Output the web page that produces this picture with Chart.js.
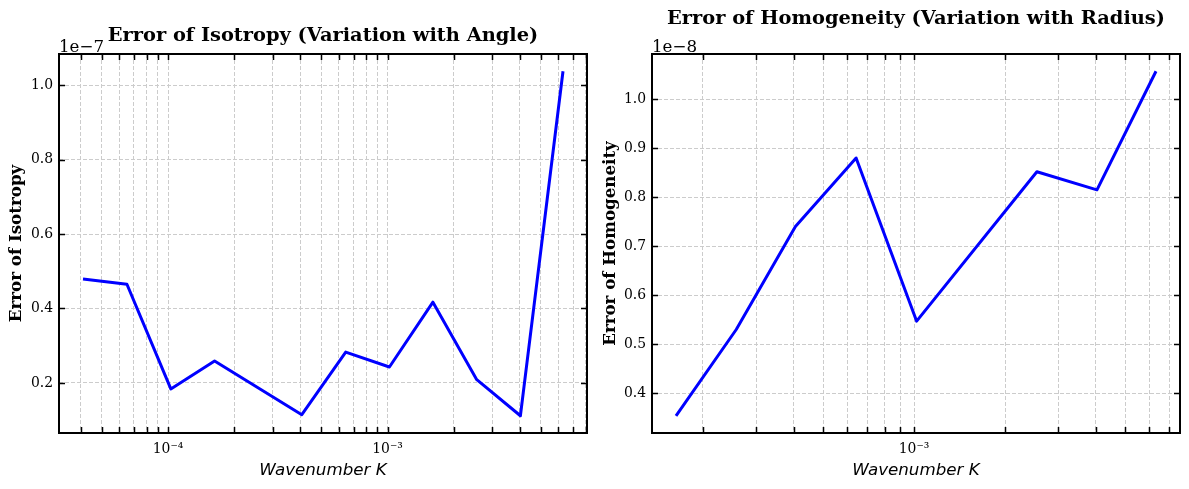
<!DOCTYPE html>
<html>
<head>
<meta charset="utf-8">
<script src="https://cdn.jsdelivr.net/npm/chart.js@4.4.0/dist/chart.umd.min.js"></script>
<style>
  html, body { margin: 0; padding: 0; background: #fff; }
  #wrap { position: relative; width: 1189px; height: 489px; }
  canvas { position: absolute; top: 0; }
  #isoChart { left: 0; }
  #homChart { left: 593px; }
</style>
</head>
<body>
<div id="wrap">
  <canvas id="isoChart" width="594" height="489"></canvas>
  <canvas id="homChart" width="596" height="489"></canvas>
</div>
<script>
// values
const isoK = [4.1e-5, 6.5e-5, 1.03e-4, 1.63e-4, 4.07e-4, 6.45e-4, 1.02e-3, 1.61e-3, 2.55e-3, 4.03e-3, 6.3e-3];
const isoErr = [4.79e-8, 4.65e-8, 1.84e-8, 2.59e-8, 1.15e-8, 2.83e-8, 2.43e-8, 4.17e-8, 2.09e-8, 1.12e-8, 1.037e-7];

const homK = [1.63e-4, 2.58e-4, 4.05e-4, 6.43e-4, 1.02e-3, 2.55e-3, 4.03e-3, 6.32e-3];
const homErr = [3.54e-9, 5.30e-9, 7.40e-9, 8.80e-9, 5.47e-9, 8.52e-9, 8.15e-9, 1.057e-8];

// tick labels (y ticks are in units of the offset text)
const isoYTicks = [0.2, 0.4, 0.6, 0.8, 1.0];
const homYTicks = [0.4, 0.5, 0.6, 0.7, 0.8, 0.9, 1.0];
const isoXMajor = [1e-4, 1e-3];
const isoXLabels = ["10⁻⁴", "10⁻³"];
const homXMajor = [1e-3];
const homXLabels = ["10⁻³"];

const SERIF = '"DejaVu Serif", serif';
const SANS = '"DejaVu Sans", sans-serif';

// matplotlib-like autoscale: 5% margin (log space for x)
function logLimits(arr) {
  const a = Math.log10(Math.min(...arr)), b = Math.log10(Math.max(...arr));
  const m = (b - a) * 0.05;
  return [Math.pow(10, a - m), Math.pow(10, b + m)];
}
function linLimits(arr) {
  const a = Math.min(...arr), b = Math.max(...arr);
  const m = (b - a) * 0.05;
  return [a - m, b + m];
}

function logTicks(min, max) {
  const out = [];
  for (let d = Math.floor(Math.log10(min)); d <= Math.ceil(Math.log10(max)); d++) {
    for (let m = 1; m <= 9; m++) {
      const v = m * Math.pow(10, d);
      if (v >= min && v <= max) out.push({ value: v, major: m === 1 });
    }
  }
  return out;
}

// inward ticks on all four sides, black frame, title and offset text
const mplDecor = {
  id: "mplDecor",
  afterDraw(chart, args, opts) {
    const { ctx, chartArea: a } = chart;
    const xs = chart.scales.x, ys = chart.scales.y;
    ctx.save();
    ctx.strokeStyle = "#000";
    ctx.lineWidth = 1.5;
    ctx.beginPath();
    xs.ticks.forEach(t => {
      const px = Math.round(xs.getPixelForValue(t.value)) + 0.5;
      ctx.moveTo(px, a.bottom); ctx.lineTo(px, a.bottom - 6);
      ctx.moveTo(px, a.top); ctx.lineTo(px, a.top + 6);
    });
    ys.ticks.forEach(t => {
      const py = Math.round(ys.getPixelForValue(t.value)) + 0.5;
      ctx.moveTo(a.left, py); ctx.lineTo(a.left + 6, py);
      ctx.moveTo(a.right, py); ctx.lineTo(a.right - 6, py);
    });
    ctx.stroke();
    ctx.lineWidth = 2;
    ctx.strokeRect(a.left, a.top, a.right - a.left, a.bottom - a.top);

    ctx.fillStyle = "#000";
    ctx.textAlign = "center";
    ctx.textBaseline = "alphabetic";
    ctx.font = "bold 19.4px " + SERIF;
    ctx.fillText(opts.title, (a.left + a.right) / 2, opts.titleY);

    ctx.textAlign = "left";
    ctx.font = "16.7px " + SERIF;
    ctx.fillText(opts.offsetText, a.left, 51.5);
    ctx.restore();
  }
};

function makeChart(id, kVals, errVals, unit, yTicks, xMajor, xLabels, cfg) {
  const [xMin, xMax] = logLimits(kVals);
  const [yMin, yMax] = linLimits(errVals);
  const pts = kVals.map((k, i) => ({ x: k, y: errVals[i] }));

  return new Chart(document.getElementById(id).getContext("2d"), {
    type: "line",
    data: {
      datasets: [{
        data: pts,
        borderColor: "#0000ff",
        borderWidth: 3,
        pointRadius: 0,
        tension: 0,
        fill: false,
        borderJoinStyle: "round",
      }],
    },
    options: {
      responsive: false,
      animation: false,
      events: [],
      layout: { padding: { top: 54, left: 0, right: cfg.padRight, bottom: 0 } },
      plugins: {
        legend: { display: false },
        tooltip: { enabled: false },
        mplDecor: { title: cfg.title, titleY: cfg.titleY, offsetText: cfg.offsetText },
      },
      scales: {
        x: {
          type: "logarithmic",
          min: xMin,
          max: xMax,
          afterBuildTicks: s => { s.ticks = logTicks(xMin, xMax); },
          afterFit: s => { s.height = 56; },
          grid: { color: "#cccccc", lineWidth: 1, drawTicks: false },
          border: { display: false, dash: [4, 2] },
          ticks: {
            autoSkip: false,
            maxRotation: 0,
            padding: 8,
            color: "#000",
            font: { family: SERIF, size: 13.9 },
            callback: (v, i, ticks) => {
              if (!ticks[i].major) return "";
              const j = xMajor.findIndex(m => Math.abs(v / m - 1) < 1e-6);
              return j >= 0 ? xLabels[j] : "";
            },
          },
          title: {
            display: true,
            text: "Wavenumber K",
            color: "#000",
            font: { family: SANS, size: 16.7, style: "italic" },
            padding: { top: 0, bottom: 8 },
          },
        },
        y: {
          type: "linear",
          min: yMin,
          max: yMax,
          afterBuildTicks: s => { s.ticks = yTicks.map(v => ({ value: v * unit })); },
          afterFit: s => { s.width = 59; },
          grid: { color: "#cccccc", lineWidth: 1, drawTicks: false },
          border: { display: false, dash: [4, 2] },
          ticks: {
            autoSkip: false,
            padding: 6,
            color: "#000",
            font: { family: SERIF, size: 13.9 },
            callback: v => (v / unit).toFixed(1),
          },
          title: {
            display: true,
            text: cfg.yTitle,
            color: "#000",
            font: { family: SERIF, size: 16.7, weight: "bold" },
            padding: { top: cfg.yTitlePad, bottom: 0 },
          },
        },
      },
    },
    plugins: [mplDecor],
  });
}

makeChart("isoChart", isoK, isoErr, 1e-7, isoYTicks, isoXMajor, isoXLabels, {
  title: "Error of Isotropy (Variation with Angle)",
  titleY: 40.5,
  offsetText: "1e\u22127",
  yTitle: "Error of Isotropy",
  yTitlePad: 7,
  padRight: 7,
});

makeChart("homChart", homK, homErr, 1e-8, homYTicks, homXMajor, homXLabels, {
  title: "Error of Homogeneity (Variation with Radius)",
  titleY: 23.5,
  offsetText: "1e\u22128",
  yTitle: "Error of Homogeneity",
  yTitlePad: 8,
  padRight: 9,
});
</script>
</body>
</html>
